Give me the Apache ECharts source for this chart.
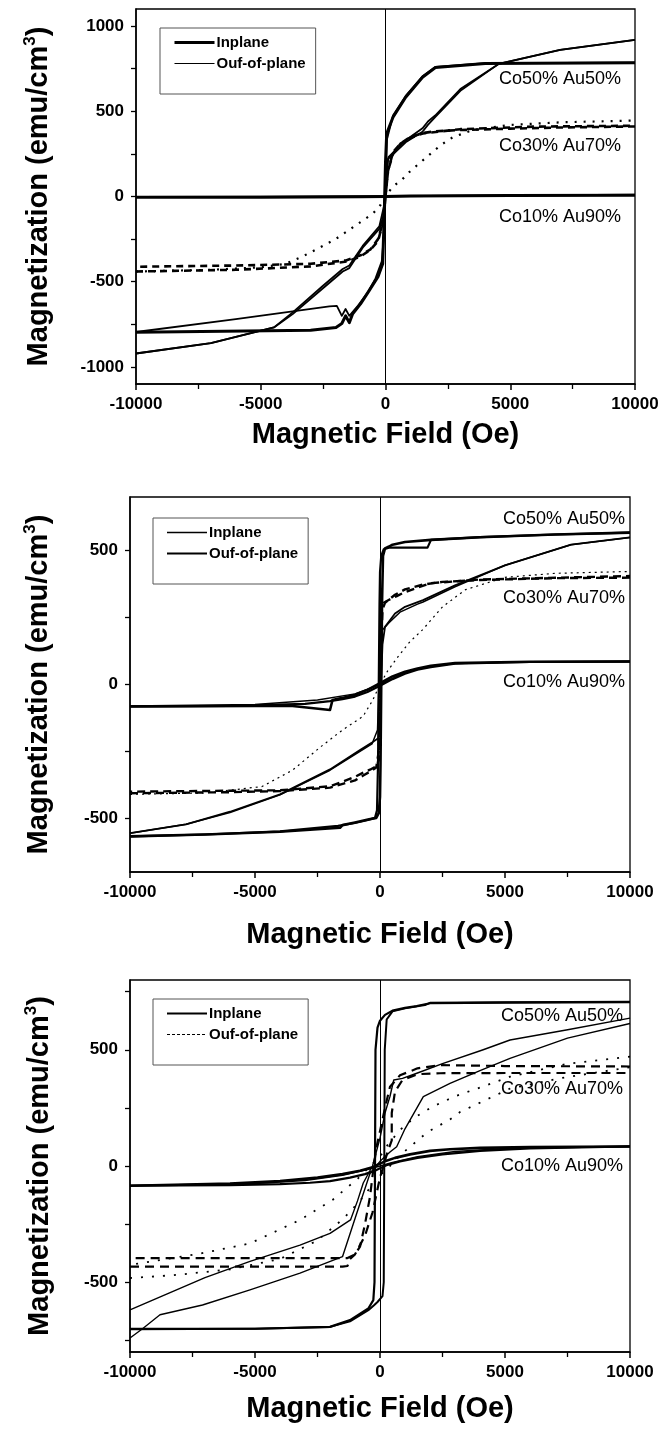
<!DOCTYPE html>
<html>
<head>
<meta charset="utf-8">
<title>Magnetization loops</title>
<script src="https://cdn.jsdelivr.net/npm/echarts@6/dist/echarts.min.js"></script>
<style>
  html, body { margin: 0; padding: 0; background: #fff; }
  #chart { width: 662px; height: 1429px; }
</style>
</head>
<body>
<div id="chart"></div>
<script>
// ---- Tick values -------------------------------------------------------
const fieldRange = [-10000, 10000];
const aRange = [-1100, 1100];
const bRange = [-700, 700];
const cRange = [-800, 800];
const aLabels = [-1000, -500, 0, 500, 1000];
const aTicks = [-1000, -750, -500, -250, 0, 250, 500, 750, 1000];
const bLabels = [-500, 0, 500];
const bTicks = [-500, -250, 0, 250, 500];
const cLabels = [-500, 0, 500];
const cTicks = [-750, -500, -250, 0, 250, 500, 750];

const sampleNames = ['Co50% Au50%', 'Co30% Au70%', 'Co10% Au90%'];
const legendNames = ['Inplane', 'Ouf-of-plane'];

// ---- Panel A: [field (Oe), magnetization (emu/cm3)] ----------------------
const a_co50_in_down = [[10000,785],[4000,780],[2000,757],[1483,700],[808,582],[300,465],[48,369],[0,200],[-50,-100],[-112,-395],[-300,-470],[-649,-551],[-1000,-630],[-1315,-688],[-1450,-740],[-1600,-700],[-1750,-745],[-1984,-768],[-3000,-785],[-10000,-797]];
const a_co50_in_up = [[-10000,-795],[-6000,-720],[-2250,-645],[-1950,-642],[-1750,-700],[-1600,-660],[-1450,-700],[-1100,-640],[-700,-560],[-400,-480],[-150,-380],[-50,-200],[0,0],[50,330],[300,475],[808,590],[1483,705],[2000,760],[4000,782],[10000,785]];
const a_co50_out_down = [[10000,919],[7000,860],[4538,778],[3000,630],[1990,475],[1700,440],[1483,400],[808,330],[117,231],[0,100],[-50,-100],[-248,-190],[-914,-300],[-1450,-420],[-1715,-440],[-2517,-540],[-3720,-690],[-4470,-768],[-7000,-860],[-10000,-921]];
const a_co50_out_up = [[-10000,-921],[-7000,-860],[-4470,-768],[-3720,-680],[-2517,-525],[-1715,-425],[-1450,-405],[-914,-290],[-248,-175],[-50,-50],[0,50],[100,220],[808,318],[1483,380],[1700,420],[1990,465],[3000,620],[4538,778],[7000,860],[10000,919]];
const a_co30_in_down = [[10000,411],[7000,405],[5000,398],[3000,390],[2000,383],[1500,372],[1000,350],[600,310],[300,260],[100,150],[0,0],[-100,-150],[-300,-250],[-600,-310],[-1000,-345],[-1585,-375],[-3000,-395],[-6000,-405],[-10000,-412]];
const a_co30_in_up = [[-10000,-440],[-6000,-430],[-3000,-410],[-1500,-380],[-1000,-352],[-600,-312],[-300,-262],[-100,-152],[0,0],[100,150],[300,250],[600,310],[1000,345],[1500,370],[3000,395],[6000,410],[10000,415]];
const a_co30_out = [[-10000,-440],[-7000,-430],[-5000,-415],[-4000,-395],[-3300,-350],[-2705,-305],[-2000,-250],[-1500,-200],[-1000,-150],[-500,-100],[-200,-50],[0,0],[300,60],[630,94],[1000,150],[1640,230],[2200,300],[2690,347],[3500,390],[5000,420],[7000,435],[10000,446]];
const a_co10_in = [[10000,8],[5000,6],[1000,3],[0,0],[-1000,-2],[-5000,-4],[-10000,-5]];
const a_co10_out = [[-10000,-3],[-5000,-2],[0,2],[5000,6],[10000,10]];

// ---- Panel B ------------------------------------------------------------
const b_co50_in_down = [[10000,567],[7000,560],[4000,550],[2040,540],[1000,532],[500,522],[362,515],[200,508],[120,480],[80,300],[50,0],[20,-300],[0,-420],[-50,-480],[-150,-498],[-480,-504],[-1000,-515],[-1500,-525],[-1600,-535],[-1680,-530],[-4000,-550],[-7000,-560],[-10000,-567]];
const b_co50_in_up = [[-10000,-567],[-7000,-560],[-4000,-548],[-1680,-528],[-1000,-517],[-480,-506],[-200,-498],[-120,-470],[-80,-300],[-50,0],[-20,300],[0,420],[50,480],[150,505],[362,511],[1000,511],[1900,511],[2040,540],[4000,550],[7000,560],[10000,567]];
const b_co50_out_down = [[10000,549],[7640,522],[5000,445],[3000,370],[1720,315],[1000,290],[600,265],[360,235],[200,215],[100,150],[40,0],[0,-120],[-60,-200],[-320,-217],[-800,-245],[-2000,-317],[-4000,-410],[-6000,-475],[-7760,-522],[-10000,-555]];
const b_co50_out_up = [[-10000,-555],[-7760,-522],[-6000,-478],[-4000,-412],[-2000,-320],[-800,-250],[-320,-222],[-100,-170],[-40,0],[0,120],[60,200],[360,231],[800,270],[1500,300],[1720,308],[3000,365],[5000,445],[7640,522],[10000,549]];
const b_co30_in_down = [[10000,399],[7000,397],[4000,390],[2500,383],[1720,373],[1000,355],[600,335],[352,317],[200,305],[100,280],[50,150],[0,-100],[-40,-280],[-150,-305],[-400,-318],[-670,-329],[-1000,-345],[-2000,-380],[-4000,-395],[-10000,-400]];
const b_co30_in_up = [[-10000,-406],[-6000,-402],[-4000,-398],[-2000,-385],[-1000,-358],[-670,-340],[-400,-325],[-150,-310],[-50,-250],[0,80],[40,280],[150,305],[400,318],[670,330],[1000,345],[2000,378],[4000,392],[10000,405]];
const b_co30_out = [[-10000,-410],[-7000,-405],[-4720,-381],[-3500,-320],[-2350,-231],[-1500,-170],[-680,-119],[-300,-60],[0,0],[300,50],[730,105],[1200,160],[1710,205],[2500,290],[3420,354],[5000,400],[7000,415],[10000,422]];
const b_co10_in_down = [[10000,86],[6000,85],[3000,80],[2030,70],[1500,60],[1000,48],[500,30],[0,5],[-500,-20],[-1000,-38],[-1500,-50],[-1900,-58],[-2000,-95],[-3500,-80],[-5000,-80],[-10000,-82]];
const b_co10_in_up = [[-10000,-82],[-6000,-80],[-3000,-72],[-2000,-62],[-1500,-55],[-1000,-45],[-500,-28],[0,-5],[500,20],[1000,40],[1500,55],[2030,65],[3000,78],[6000,84],[10000,86]];
const b_co10_out = [[-10000,-80],[-5000,-75],[-2500,-58],[-1000,-35],[0,0],[1000,45],[2000,68],[3000,78],[5000,83],[10000,85]];

// ---- Panel C ------------------------------------------------------------
const c_co50_in_down = [[10000,705],[5000,703],[2000,700],[1467,688],[1000,680],[500,668],[200,650],[0,625],[-100,595],[-180,500],[-200,0],[-220,-500],[-267,-577],[-467,-613],[-1200,-663],[-2000,-692],[-5000,-700],[-10000,-700]];
const c_co50_in_up = [[-10000,-702],[-5000,-700],[-2000,-692],[-1200,-668],[-467,-620],[-250,-600],[-100,-585],[100,-560],[150,-500],[170,0],[190,500],[267,630],[500,665],[1000,678],[1800,692],[2000,702],[5000,704],[10000,706]];
const c_co50_out_down = [[10000,636],[7450,585],[5200,542],[4100,499],[2500,440],[1500,400],[900,377],[550,370],[400,300],[200,228],[0,120],[-300,0],[-670,-73],[-900,-150],[-1180,-232],[-2000,-290],[-3200,-340],[-5200,-410],[-7000,-480],[-10000,-619]];
const c_co50_out_up = [[-10000,-740],[-9500,-700],[-8800,-640],[-7100,-598],[-5200,-533],[-3200,-461],[-1500,-390],[-933,-204],[-400,-32],[0,20],[400,60],[667,83],[1000,160],[1733,298],[2800,355],[4000,410],[5200,463],[7500,550],[10000,613]];
const c_co30_in_down = [[10000,428],[5000,430],[2400,434],[1500,420],[800,390],[400,341],[200,250],[0,150],[-133,85],[-250,0],[-400,-132],[-600,-250],[-800,-347],[-1000,-380],[-1300,-396],[-3000,-396],[-10000,-396]];
const c_co30_in_up = [[-10000,-433],[-5000,-433],[-1500,-433],[-1300,-430],[-1200,-400],[-1000,-380],[-600,-300],[-300,-200],[0,-50],[300,60],[470,110],[470,228],[600,320],[900,370],[1500,395],[2400,399],[5000,400],[10000,400]];
const c_co30_out_down = [[10000,470],[7500,440],[5200,384],[4100,341],[3000,300],[2100,255],[1400,210],[800,155],[300,90],[0,40],[-400,0],[-800,-46],[-1900,-146],[-3200,-232],[-5200,-333],[-7250,-378],[-10000,-425]];
const c_co30_out_up = [[-10000,-482],[-8300,-470],[-6000,-445],[-4000,-400],[-2500,-320],[-1500,-230],[-800,-150],[-300,-80],[0,-40],[400,0],[800,46],[1900,146],[2800,200],[3200,232],[5200,333],[7250,378],[10000,425]];
const c_co10_in_down = [[10000,84],[6000,82],[4000,78],[2800,72],[2000,65],[1200,50],[600,35],[200,20],[0,10],[-300,-5],[-800,-20],[-1500,-35],[-2500,-50],[-4000,-65],[-6000,-76],[-10000,-85]];
const c_co10_in_up = [[-10000,-85],[-6000,-82],[-4000,-78],[-2800,-72],[-2000,-65],[-1200,-50],[-600,-35],[-200,-20],[0,-10],[300,5],[800,20],[1500,35],[2500,50],[4000,65],[6000,76],[10000,84]];
const c_co10_out = [[-10000,-84],[-5000,-75],[-3000,-62],[-1500,-40],[-500,-15],[0,0],[500,15],[1500,40],[3000,62],[5000,75],[10000,84]];

// ---- Styling helpers ----------------------------------------------------
const FONT = '"Liberation Sans", Arial, Helvetica, sans-serif';
const INK = '#000';
const plainNumber = v => String(v);

function curve(name, grid, data, width, type, extra) {
  return Object.assign({
    type: 'line', name: name, xAxisIndex: grid, yAxisIndex: grid,
    data: data, symbol: 'none', showSymbol: false, silent: true, color: INK,
    emphasis: { disabled: true },
    lineStyle: { color: INK, width: width, type: type || 'solid', join: 'round' }
  }, extra || {});
}

function zeroLine() {
  return {
    silent: true, symbol: 'none', animation: false,
    label: { show: false },
    lineStyle: { color: INK, width: 1, type: 'solid' },
    data: [{ xAxis: 0 }]
  };
}

const grids = [
  { left: 136, top: 9, width: 499, height: 375 },
  { left: 130, top: 497, width: 500, height: 375 },
  { left: 130, top: 980, width: 500, height: 372 }
].map(g => Object.assign(g, { show: true, borderColor: INK, borderWidth: 1.3, backgroundColor: 'transparent' }));

function fieldAxis(grid, nameGap) {
  return {
    gridIndex: grid, type: 'value', min: fieldRange[0], max: fieldRange[1], interval: 5000,
    axisLine: { onZero: false, lineStyle: { color: INK, width: 1.5 } },
    axisTick: { length: 6, lineStyle: { color: INK, width: 1.5 } },
    minorTick: { show: true, splitNumber: 2, length: 5, lineStyle: { color: INK, width: 1.3 } },
    splitLine: { show: false },
    axisLabel: { color: INK, fontFamily: FONT, fontWeight: 'bold', fontSize: 17, margin: 12, formatter: plainNumber },
    name: 'Magnetic Field (Oe)', nameLocation: 'middle', nameGap: nameGap,
    nameTextStyle: { color: INK, fontFamily: FONT, fontWeight: 'bold', fontSize: 29 }
  };
}

function magAxis(grid, range, labels, ticks, nameGap) {
  return {
    gridIndex: grid, type: 'value', min: range[0], max: range[1],
    axisLine: { onZero: false, lineStyle: { color: INK, width: 1.5 } },
    axisTick: { length: 5, customValues: ticks, lineStyle: { color: INK, width: 1.3 } },
    splitLine: { show: false },
    axisLabel: { color: INK, fontFamily: FONT, fontWeight: 'bold', fontSize: 17, margin: 12,
                 customValues: labels, formatter: plainNumber },
    name: '{a|Magnetization (emu/cm}{s|3}{a|)}',
    nameLocation: 'middle', nameRotate: 90, nameGap: nameGap,
    nameTextStyle: {
      color: INK,
      rich: {
        a: { fontFamily: FONT, fontWeight: 'bold', fontSize: 29, color: INK, lineHeight: 34 },
        s: { fontFamily: FONT, fontWeight: 'bold', fontSize: 17, color: INK, lineHeight: 34, verticalAlign: 'top' }
      }
    }
  };
}

const hiddenSymbol = { color: 'transparent', borderWidth: 0, opacity: 0 };

function legendBox(left, top, inStyle, outStyle) {
  return {
    orient: 'vertical', left: left, top: top,
    padding: [7, 10, 23, 13], itemGap: 6, itemWidth: 40, itemHeight: 14,
    borderColor: '#555', borderWidth: 1, selectedMode: false,
    itemStyle: hiddenSymbol,
    textStyle: { color: INK, fontFamily: FONT, fontWeight: 'bold', fontSize: 15, padding: [0, 0, 0, -3] },
    data: [
      { name: legendNames[0], lineStyle: inStyle, itemStyle: hiddenSymbol },
      { name: legendNames[1], lineStyle: outStyle, itemStyle: hiddenSymbol }
    ]
  };
}

function sampleText(x, ys) {
  return sampleNames.map((t, i) => ({
    type: 'text', silent: true,
    style: { text: t, x: x, y: ys[i], align: 'right', verticalAlign: 'middle',
             font: '18px ' + FONT, fill: INK }
  }));
}

const IN = legendNames[0], OUT = legendNames[1];

const series = [
  // Panel A
  curve(IN, 0, a_co10_in, 3, 'solid', { markLine: zeroLine() }),
  curve(OUT, 0, a_co10_out, 2),
  curve(IN, 0, a_co50_in_down, 3),
  curve(IN, 0, a_co50_in_up, 1.8),
  curve(OUT, 0, a_co50_out_down, 1.8),
  curve(OUT, 0, a_co50_out_up, 1.8),
  curve(IN, 0, a_co30_in_down, 2.6, [7, 5]),
  curve(IN, 0, a_co30_in_up, 2.6, [7, 5]),
  curve(OUT, 0, a_co30_out, 2.2, [2, 7]),
  // Panel B
  curve(IN, 1, b_co10_in_down, 2.6, 'solid', { markLine: zeroLine() }),
  curve(IN, 1, b_co10_in_up, 2.2),
  curve(OUT, 1, b_co10_out, 1.5),
  curve(IN, 1, b_co50_in_down, 2.6),
  curve(IN, 1, b_co50_in_up, 2.2),
  curve(OUT, 1, b_co50_out_down, 1.8),
  curve(OUT, 1, b_co50_out_up, 1.5),
  curve(IN, 1, b_co30_in_down, 2.4, [8, 5]),
  curve(IN, 1, b_co30_in_up, 2.4, [8, 5]),
  curve(OUT, 1, b_co30_out, 1.2, [2, 4]),
  // Panel C
  curve(IN, 2, c_co10_in_down, 2.6, 'solid', { markLine: zeroLine() }),
  curve(IN, 2, c_co10_in_up, 2.2),
  curve(OUT, 2, c_co10_out, 1.5),
  curve(IN, 2, c_co50_in_down, 2.2),
  curve(IN, 2, c_co50_in_up, 2),
  curve(OUT, 2, c_co50_out_down, 1.4),
  curve(OUT, 2, c_co50_out_up, 1.4),
  curve(IN, 2, c_co30_in_down, 2.2, [9, 6]),
  curve(IN, 2, c_co30_in_up, 2.2, [9, 6]),
  curve(OUT, 2, c_co30_out_down, 1.8, [2, 9]),
  curve(OUT, 2, c_co30_out_up, 1.8, [2, 9])
];

const chart = echarts.init(document.getElementById('chart'), null, { renderer: 'canvas' });
chart.setOption({
  animation: false,
  backgroundColor: '#fff',
  grid: grids,
  xAxis: [fieldAxis(0, 36), fieldAxis(1, 48), fieldAxis(2, 42)],
  yAxis: [
    magAxis(0, aRange, aLabels, aTicks, 80),
    magAxis(1, bRange, bLabels, bTicks, 74),
    magAxis(2, cRange, cLabels, cTicks, 73)
  ],
  legend: [
    legendBox(160, 28, { color: INK, width: 3, type: 'solid' }, { color: INK, width: 1.2, type: 'solid' }),
    legendBox(153, 518, { color: INK, width: 1.5, type: 'solid' }, { color: INK, width: 2, type: 'solid' }),
    legendBox(153, 999, { color: INK, width: 2, type: 'solid' }, { color: INK, width: 1, type: [3, 2] })
  ],
  graphic: [].concat(
    sampleText(621, [79, 146, 217]),
    sampleText(625, [519, 598, 682]),
    sampleText(623, [1016, 1089, 1166])
  ),
  series: series
});
</script>
</body>
</html>
